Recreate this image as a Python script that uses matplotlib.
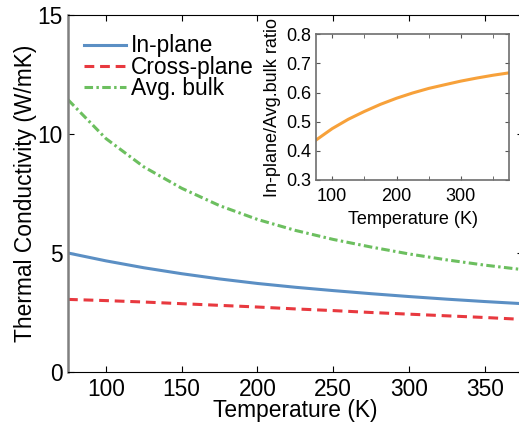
import numpy as np
import matplotlib
matplotlib.use("Agg")
import matplotlib.pyplot as plt

plt.rcParams['font.family'] = ['Liberation Sans', 'DejaVu Sans']

# temperature grid (K) and conductivities (W/mK)
temps = [75, 100, 125, 150, 175, 200, 225, 250, 275, 300, 325, 350, 375]
in_plane = [5.00, 4.67, 4.38, 4.13, 3.91, 3.72, 3.56, 3.42, 3.29, 3.17, 3.06, 2.96, 2.87]
cross_plane = [3.05, 3.00, 2.94, 2.87, 2.80, 2.73, 2.65, 2.58, 2.50, 2.43, 2.36, 2.29, 2.21]
avg_bulk = [11.44, 9.81, 8.62, 7.72, 6.99, 6.41, 5.95, 5.57, 5.25, 4.96, 4.71, 4.49, 4.30]

ratio = np.array(in_plane) / np.array(avg_bulk)

blue = '#5b8fc4'
red = '#e8393f'
green = '#6cbf5f'
orange = '#f7a13a'

fig = plt.figure(figsize=(5.19, 4.22), dpi=100)
ax = fig.add_axes([0.131, 0.1185, 0.876, 0.846])

ax.plot(temps, in_plane, color=blue, lw=2.2, label='In-plane')
ax.plot(temps, cross_plane, color=red, lw=2.2, ls=(0, (3.2, 1.9)), label='Cross-plane')
ax.plot(temps, avg_bulk, color=green, lw=2.2, ls=(0, (2.8, 1.1, 0.8, 1.1)), label='Avg. bulk')

ax.set_xlim(75, 375)
ax.set_ylim(0, 15)
ax.set_xticks([100, 150, 200, 250, 300, 350])
ax.set_yticks([0, 5, 10, 15])
ax.tick_params(direction='in', length=4, labelsize=16.4, top=True, right=True, pad=4)
ax.spines['left'].set_color('#808080')
ax.spines['left'].set_linewidth(1.8)
ax.set_xlabel('Temperature (K)', fontsize=16.4, labelpad=-1)
ax.set_ylabel('Thermal Conductivity (W/mK)', fontsize=16.4, labelpad=0)

ax.legend(loc='upper left', frameon=False, fontsize=16.4, handlelength=1.85,
          handletextpad=0.2, labelspacing=-0.08, borderaxespad=0.3,
          bbox_to_anchor=(0.0, 0.99))

# inset: in-plane / average bulk
ins = fig.add_axes([0.609, 0.5735, 0.372, 0.3455])
ins.plot(temps, ratio, color=orange, lw=2.2)
ins.set_xlim(75, 375)
ins.set_ylim(0.3, 0.8)
ins.set_xticks([100, 200, 300])
ins.set_xticks([150, 250, 350], minor=True)
ins.set_yticks([0.3, 0.4, 0.5, 0.6, 0.7, 0.8])
ins.tick_params(which='both', direction='in', length=3, labelsize=13,
                top=True, right=True, color='#555555')
ins.tick_params(axis='x', pad=6)
for s in ins.spines.values():
    s.set_color('#6e6e6e')
    s.set_linewidth(1.2)
ins.set_xlabel('Temperature (K)', fontsize=13, labelpad=4)
ins.set_ylabel('In-plane/Avg.bulk ratio', fontsize=13, labelpad=4)

fig.savefig('out.png', dpi=100)
